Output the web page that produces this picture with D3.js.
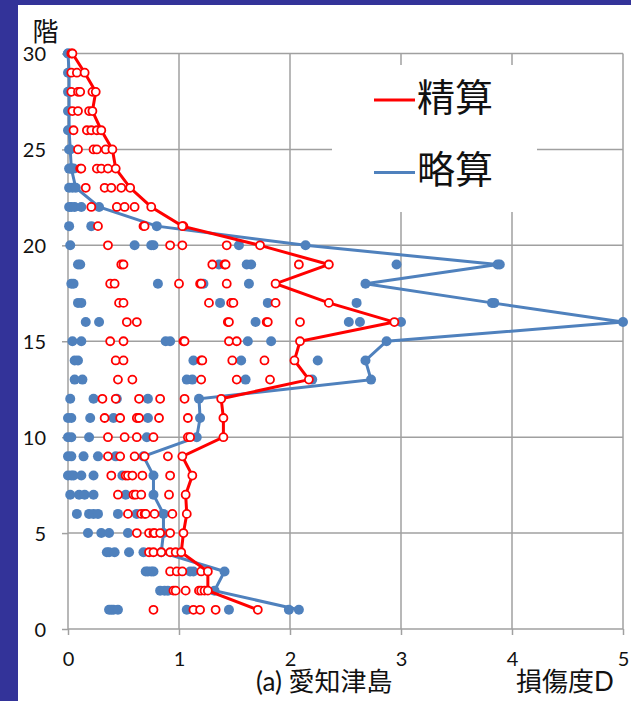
<!DOCTYPE html>
<html>
<head>
<meta charset="utf-8">
<script src="https://cdn.jsdelivr.net/npm/d3@7"></script>
<style>
  html, body { margin: 0; padding: 0; background: #333399; }
  svg { display: block; }
</style>
</head>
<body>
<script>
// Storeys 1..30 of the building
const floors = [1,2,3,4,5,6,7,8,9,10,11,12,13,14,15,16,17,18,19,20,21,22,23,24,25,26,27,28,29,30];

// Damage index D along the height, per storey (line series)
const preciseLine = [1.71,1.26,1.26,1.02,1.04,1.07,1.06,1.12,1.03,1.40,1.40,1.38,2.17,2.04,2.09,2.94,2.35,1.87,2.35,1.73,1.03,0.75,0.56,0.43,0.40,0.30,0.22,0.25,0.15,0.04];
const simpleLine  = [2.08,1.32,1.41,0.84,0.86,0.86,0.77,0.77,0.68,1.16,1.19,1.18,2.73,2.68,2.87,5.00,3.82,2.68,3.87,2.14,0.80,0.28,0.07,0.03,0.02,0.01,0.01,0.01,0.01,0.00];

// Individual results per storey (scatter), storey 1 first
const precisePoints = [
  [0.77,1.13,1.19,1.33],
  [0.95,0.97,1.06,1.18,1.20,1.23],
  [0.92,0.98,1.03,1.20],
  [0.73,0.77,0.84,0.92,0.97],
  [0.62,0.73,0.77,0.78,0.83,0.92],
  [0.54,0.66,0.69,0.70,0.78,0.94],
  [0.45,0.59,0.61,0.66,0.91],
  [0.39,0.52,0.54,0.58,0.67,0.92],
  [0.36,0.47,0.60,0.69,0.90],
  [0.36,0.51,0.62,0.77,1.08,1.10],
  [0.33,0.47,0.62,0.64,0.82,1.08],
  [0.31,0.43,0.64,0.83,1.05],
  [0.45,0.58,1.20,1.52,1.82],
  [0.43,0.50,1.20,1.21,1.48,1.77],
  [0.38,0.50,1.04,1.05,1.45,1.52],
  [0.53,0.62,1.44,1.45,1.79,1.80,2.09],
  [0.46,0.50,1.27,1.47,1.49,1.87],
  [0.38,0.42,1.00,1.19,1.20,1.43],
  [0.48,0.50,1.30,1.41,1.42,2.08],
  [0.36,0.92,1.03,1.43],
  [0.27,0.68,0.69,1.04],
  [0.21,0.44,0.51,0.60],
  [0.16,0.33,0.39,0.48],
  [0.11,0.12,0.26,0.30,0.36],
  [0.09,0.23,0.26,0.34],
  [0.05,0.17,0.21,0.26],
  [0.04,0.09,0.19],
  [0.03,0.09,0.11,0.22],
  [0.03,0.08],
  [0.03]
];
const simplePoints = [
  [0.37,0.39,0.41,0.45,1.07,1.45,1.99],
  [0.83,0.87,0.90],
  [0.70,0.72,0.75,0.77,1.10,1.13],
  [0.35,0.37,0.42,0.55,0.68],
  [0.18,0.30,0.37,0.54],
  [0.08,0.19,0.23,0.27,0.45,0.62],
  [0.02,0.10,0.15,0.23,0.52],
  [0.00,0.03,0.05,0.12,0.23,0.49],
  [0.00,0.03,0.14,0.27,0.43],
  [0.00,0.03,0.19,0.71],
  [0.00,0.03,0.20,0.41,0.72],
  [0.02,0.23,0.44,0.72],
  [0.06,0.13,1.07,1.12,1.60,2.20],
  [0.06,0.09,1.13,1.56,2.25],
  [0.04,0.12,0.88,0.92,1.62,1.83],
  [0.16,0.28,1.69,2.53,2.63,3.00],
  [0.09,0.12,1.37,1.80,2.60,3.84],
  [0.03,0.05,0.81,1.22,1.63],
  [0.09,0.11,1.36,1.61,1.65,2.96,3.89],
  [0.02,0.60,0.75,0.77,1.54],
  [0.01,0.21],
  [0.01,0.03,0.06,0.12],
  [0.01,0.04],
  [0.01,0.03,0.05],
  [0.01],
  [0.00],
  [0.00],
  [0.00],
  [0.00],
  [0.00]
];

const xTicks = [0,1,2,3,4,5];
const yTicks = [0,5,10,15,20,25,30];
const seriesNames = ["精算", "略算"];

const W = 631, H = 701;
const RED = "#ff0000", BLUE = "#4f81bd", GRID = "#a0a0a0";
const numFont = "Lato, 'Noto Sans CJK JP', sans-serif";
const cjkFont = "'Noto Sans CJK JP', sans-serif";

const svg = d3.select("body").append("svg").attr("width", W).attr("height", H);

// white sheet, dark frame shows on left and top
svg.append("rect").attr("x", 18).attr("y", 5).attr("width", W - 18).attr("height", H - 5).attr("fill", "#fff");

const x = d3.scaleLinear().domain([0, 5]).range([68, 623]);
const y = d3.scaleLinear().domain([0, 30]).range([629, 53.5]);

// grid
const grid = svg.append("g").attr("stroke", GRID).attr("stroke-width", 1.5);
grid.selectAll("line.v").data(xTicks).join("line")
  .attr("x1", d => x(d)).attr("x2", d => x(d)).attr("y1", y(30)).attr("y2", y(0));
grid.selectAll("line.h").data(yTicks).join("line")
  .attr("x1", x(0)).attr("x2", x(5)).attr("y1", d => y(d)).attr("y2", d => y(d));

// axes with outward ticks
const fmt = d3.format("d");
const yAxis = svg.append("g").attr("transform", `translate(${x(0)},0)`)
  .call(d3.axisLeft(y).tickValues(yTicks).tickFormat(fmt).tickSize(6).tickPadding(16));
const xAxis = svg.append("g").attr("transform", `translate(0,${y(0)})`)
  .call(d3.axisBottom(x).tickValues(xTicks).tickFormat(fmt).tickSize(6).tickPadding(17));
[yAxis, xAxis].forEach(a => {
  a.select(".domain").remove();
  a.selectAll(".tick line").attr("stroke", GRID).attr("stroke-width", 1.5);
  a.selectAll(".tick text").attr("fill", "#111").style("font-family", numFont).style("font-size", "20px");
});
yAxis.selectAll(".tick text").attr("dy", "0.36em");

// legend panel
svg.append("rect").attr("x", 332).attr("y", 65).attr("width", 205).attr("height", 147).attr("fill", "#fff");
const legend = svg.append("g");
[[RED, 100], [BLUE, 172.5]].forEach(([c, ly], i) => {
  legend.append("line").attr("x1", 374).attr("x2", 415).attr("y1", ly).attr("y2", ly)
    .attr("stroke", c).attr("stroke-width", 3);
  legend.append("text").attr("x", 417).attr("y", ly - 6).attr("dominant-baseline", "central")
    .style("font-family", cjkFont).style("font-size", "38px").attr("fill", "#111").text(seriesNames[i]);
});

const line = d3.line().x(d => x(d[1])).y(d => y(d[0]));

// 略算 (simplified)
const sp = [];
simplePoints.forEach((vals, i) => vals.forEach(v => sp.push([floors[i], v])));
svg.append("g").selectAll("circle").data(sp).join("circle")
  .attr("cx", d => x(d[1])).attr("cy", d => y(d[0])).attr("r", 5).attr("fill", BLUE);
const sl = floors.map((f, i) => [f, simpleLine[i]]);
svg.append("path").datum(sl).attr("d", line).attr("fill", "none").attr("stroke", BLUE).attr("stroke-width", 3);
svg.append("g").selectAll("circle").data(sl).join("circle")
  .attr("cx", d => x(d[1])).attr("cy", d => y(d[0])).attr("r", 5).attr("fill", BLUE);

// 精算 (detailed)
const pp = [];
precisePoints.forEach((vals, i) => vals.forEach(v => pp.push([floors[i], v])));
svg.append("g").selectAll("circle").data(pp).join("circle")
  .attr("cx", d => x(d[1])).attr("cy", d => y(d[0])).attr("r", 4)
  .attr("fill", "#fff").attr("stroke", RED).attr("stroke-width", 1.8);
const pl = floors.map((f, i) => [f, preciseLine[i]]);
svg.append("path").datum(pl).attr("d", line).attr("fill", "none").attr("stroke", RED).attr("stroke-width", 3);
svg.append("g").selectAll("circle").data(pl).join("circle")
  .attr("cx", d => x(d[1])).attr("cy", d => y(d[0])).attr("r", 4)
  .attr("fill", "#fff").attr("stroke", RED).attr("stroke-width", 1.8);

// titles
svg.append("text").attr("x", 45.5).attr("y", 29).attr("text-anchor", "middle").attr("dominant-baseline", "central")
  .style("font-family", cjkFont).style("font-size", "26px").attr("fill", "#111").text("階");
svg.append("text").attr("x", 256).attr("y", 691)
  .style("font-family", numFont).style("font-size", "26px").attr("fill", "#111").text("(a) 愛知津島");
svg.append("text").attr("x", 516).attr("y", 691)
  .style("font-family", numFont).style("font-size", "26px").attr("fill", "#111").text("損傷度D");
</script>
</body>
</html>
